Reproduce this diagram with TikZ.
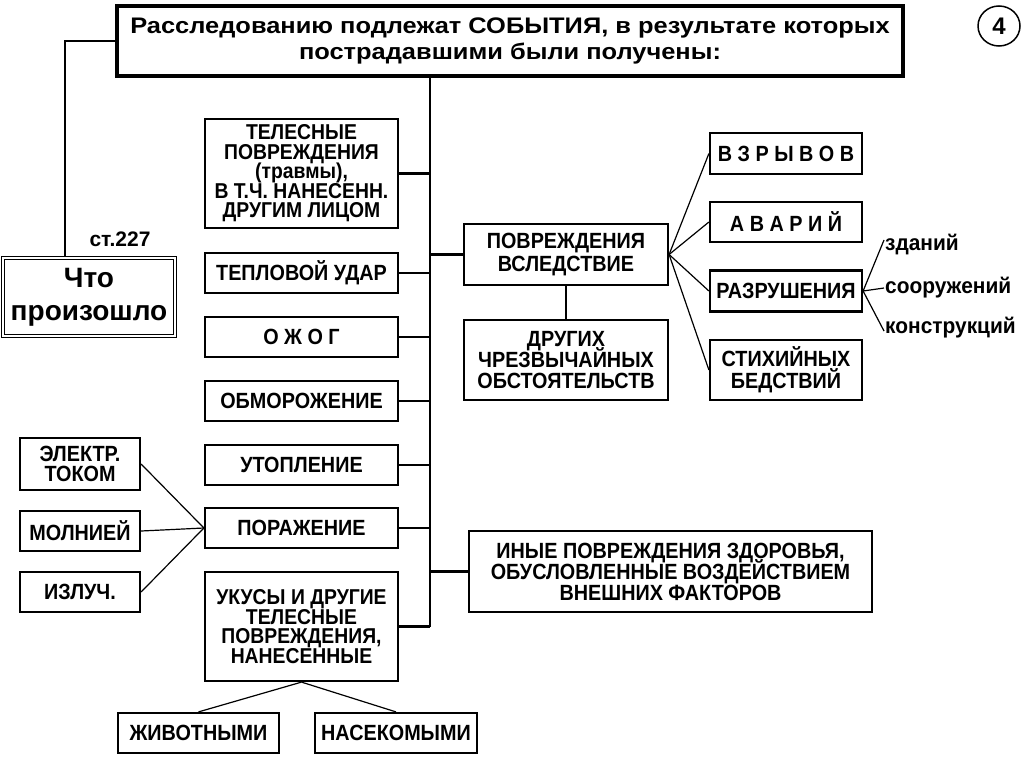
\documentclass[tikz,border=0pt]{standalone}
\usepackage{fontspec}
\usetikzlibrary{shapes.geometric}
\setmainfont{Liberation Sans}
\newfontfamily\boxfont{Liberation Sans}[FakeStretch=0.9]
\newfontfamily\titlefont{Liberation Sans}[FakeStretch=1.13]
\newfontfamily\wordfont{Liberation Sans}[FakeStretch=0.95]
\newcommand{\bxf}[2]{\boxfont\bfseries\fontsize{#1}{#2}\selectfont\lineskiplimit=-30pt\relax}
\begin{document}
\begin{tikzpicture}[x=1pt,y=-1pt,
  box/.style={draw,line width=2.2pt,align=center,inner sep=0pt,minimum width=193pt,font=\bxf{22}{20}},
  sbox/.style={box,minimum width=120pt},
  rbox/.style={box,minimum width=152pt},
  word/.style={inner sep=1pt,font=\wordfont\bfseries\fontsize{22}{22}\selectfont},
  trunkline/.style={line width=2.2pt},
  fan/.style={line width=1.2pt}]
\useasboundingbox (0,0) rectangle (1024,768);
% title
\node[draw,line width=3.5pt,minimum width=786pt,minimum height=70pt,inner sep=0pt,align=center,
  font=\titlefont\bfseries\fontsize{22.5}{26}\selectfont] (title) at (510,41)
  {Расследованию подлежат СОБЫТИЯ, в результате которых\\пострадавшими были получены:};
\node[draw,ellipse,line width=1.5pt,minimum width=42pt,minimum height=40pt,inner sep=0pt,font=\bfseries\fontsize{24}{24}\selectfont] (num) at (999,26) {4};
% what happened
\node[draw,double,double distance=2pt,line width=1.2pt,minimum width=172pt,minimum height=78pt,inner sep=0pt,align=center,
  font=\bfseries\fontsize{28}{33}\selectfont] (what) at (89,297) {Что\\произошло};
\node[font=\bfseries\fontsize{21}{21}\selectfont,inner sep=0pt] (st) at (120,239) {ст.227};
% left column
\node[box,minimum height=109pt,font=\bxf{21.5}{19.5}] (tel) at (301.5,173.5) {ТЕЛЕСНЫЕ\\ПОВРЕЖДЕНИЯ\\(травмы),\\В Т.Ч. НАНЕСЕНН.\\ДРУГИМ ЛИЦОМ};
\node[box,minimum height=40pt] (teplo) at (301.5,273) {ТЕПЛОВОЙ УДАР};
\node[box,minimum height=40pt] (ozhog) at (301.5,337) {О Ж О Г};
\node[box,minimum height=40pt] (obmor) at (301.5,401) {ОБМОРОЖЕНИЕ};
\node[box,minimum height=40pt] (utopl) at (301.5,465) {УТОПЛЕНИЕ};
\node[box,minimum height=40pt] (porazh) at (301.5,528) {ПОРАЖЕНИЕ};
\node[box,minimum height=109pt,font=\bxf{21.5}{19.5}] (ukus) at (301.5,626.5) {УКУСЫ И ДРУГИЕ\\ТЕЛЕСНЫЕ\\ПОВРЕЖДЕНИЯ,\\НАНЕСЕННЫЕ};
% far left
\node[sbox,minimum height=52pt] (elektr) at (80,464) {ЭЛЕКТР.\\ТОКОМ};
\node[sbox,minimum height=40pt] (molniya) at (80,531) {МОЛНИЕЙ};
\node[sbox,minimum height=40pt] (izluch) at (80,592) {ИЗЛУЧ.};
% bottom
\node[box,minimum width=161pt,minimum height=40pt] (zhivot) at (198.5,733) {ЖИВОТНЫМИ};
\node[box,minimum width=162pt,minimum height=40pt] (nasek) at (396,733) {НАСЕКОМЫМИ};
% right part
\node[box,minimum width=204pt,minimum height=61pt,font=\bxf{22}{22.5}] (povr) at (566,254.5) {ПОВРЕЖДЕНИЯ\\ВСЛЕДСТВИЕ};
\node[box,minimum width=204pt,minimum height=80pt,font=\bxf{22}{21}] (drug) at (566,360) {ДРУГИХ\\ЧРЕЗВЫЧАЙНЫХ\\ОБСТОЯТЕЛЬСТВ};
\node[rbox,minimum height=41pt] (vzryv) at (786,153.5) {В З Р Ы В О В};
\node[rbox,minimum height=40pt] (avar) at (786,222) {А В А Р И Й};
\node[rbox,minimum height=41pt] (razr) at (786,291) {РАЗРУШЕНИЯ};
\node[rbox,minimum height=60pt,font=\bxf{22}{22}] (stikh) at (786,370) {СТИХИЙНЫХ\\БЕДСТВИЙ};
\node[box,minimum width=403pt,minimum height=81pt,font=\bxf{22}{21}] (inye) at (670.5,571.5) {ИНЫЕ ПОВРЕЖДЕНИЯ ЗДОРОВЬЯ,\\ОБУСЛОВЛЕННЫЕ ВОЗДЕЙСТВИЕМ\\ВНЕШНИХ ФАКТОРОВ};
\node[word,anchor=west] (zd) at (884,245) {зданий};
\node[word,anchor=west] (soor) at (884,288) {сооружений};
\node[word,anchor=west] (konstr) at (884,328) {конструкций};
% connectors
\coordinate (trunk) at (430,0);
\coordinate (wline) at (65,0);
\draw[trunkline] (title.west) -| (wline |- what.north);
\draw[trunkline] (title.south -| trunk) -- (trunk |- ukus.east);
\foreach \n in {tel,teplo,ozhog,obmor,utopl,porazh,ukus}
  \draw[trunkline] (\n.east) -- (\n.east -| trunk);
\foreach \n in {povr,inye}
  \draw[trunkline] (\n.west) -- (\n.west -| trunk);
\draw[fan] (povr.south) -- (drug.north);
\foreach \n in {vzryv,avar,razr,stikh}
  \draw[fan] (povr.east) -- (\n.west);
\draw[fan] (razr.east) -- ([yshift=5pt]zd.west);
\draw[fan] (razr.east) -- (soor.west);
\draw[fan] (razr.east) -- ([yshift=-3pt]konstr.west);
\foreach \n in {elektr,molniya,izluch}
  \draw[fan] (porazh.west) -- (\n.east);
\draw[fan] (ukus.south) -- (zhivot.north);
\draw[fan] (ukus.south) -- (nasek.north);
\end{tikzpicture}
\end{document}
